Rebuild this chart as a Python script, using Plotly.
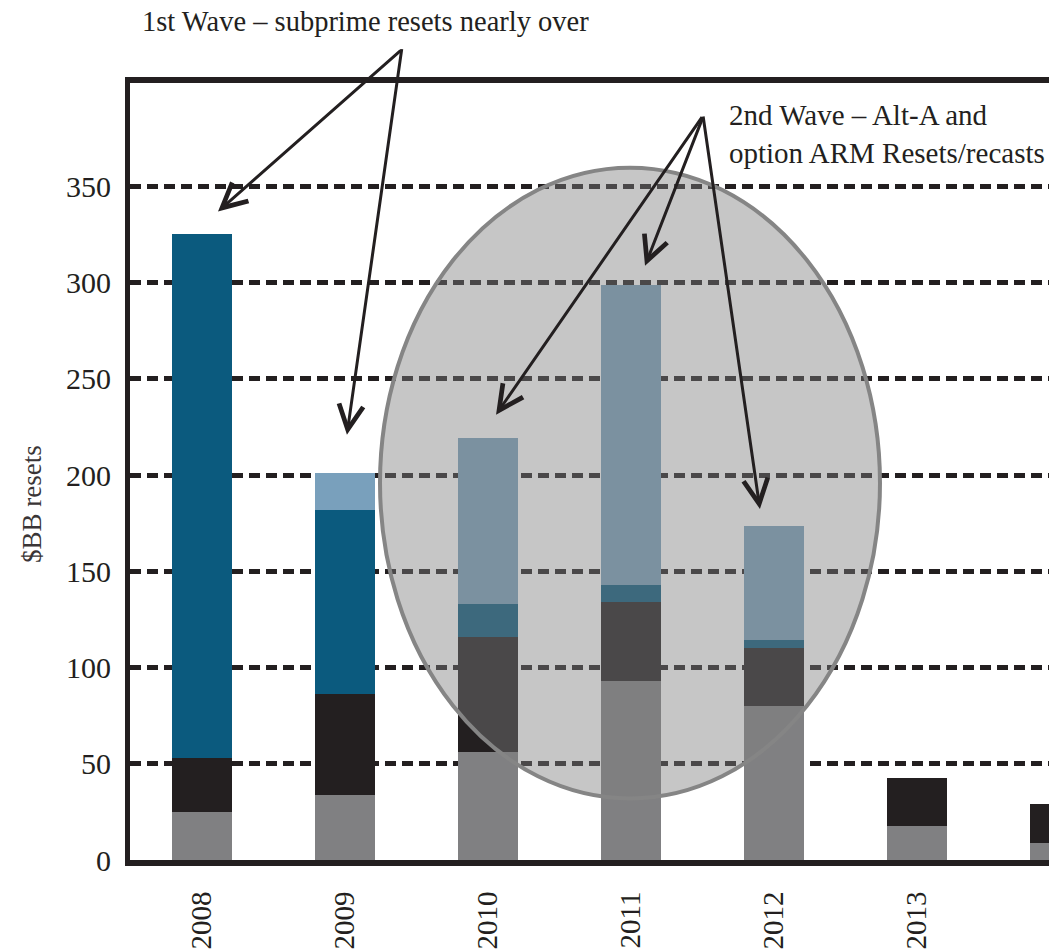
import plotly.graph_objects as go

# Reset volumes by year, $BB, stacked bottom to top
years = [2008, 2009, 2010, 2011, 2012, 2013, 2014]
year_labels = ["2008", "2009", "2010", "2011", "2012", "2013", "2014"]
prime = [25, 34, 56, 93, 80, 17.5, 9]
other = [28, 52, 60, 41, 30, 25, 20]
subprime = [272, 96, 17, 9, 4.5, 0, 0]
alt_a_option_arm = [0, 19, 86, 156, 59, 0, 0]

y_ticks = [0, 50, 100, 150, 200, 250, 300, 350]

INK = "#231F20"
FONT = "Liberation Serif"

series = [
    ("Prime", prime, "#808082"),
    ("Other", other, INK),
    ("Subprime", subprime, "#0B5A7E"),
    ("Alt-A / Option ARM", alt_a_option_arm, "#79A0BC"),
]

fig = go.Figure()
for name, vals, color in series:
    fig.add_trace(go.Bar(
        x=years, y=vals, name=name, width=0.42,
        marker=dict(color=color, line=dict(width=0)),
    ))

fig.update_layout(
    barmode="stack",
    width=1049, height=950,
    margin=dict(l=130, r=0, t=83, b=84),
    paper_bgcolor="white", plot_bgcolor="white",
    showlegend=False,
    font=dict(family=FONT, color=INK, size=28),
)

fig.update_xaxes(
    range=[2007.5, 2007.5 + 919 / 143.1],
    tickvals=years, ticktext=year_labels, tickangle=-90,
    tickfont=dict(family=FONT, size=29, color=INK),
    showgrid=False, zeroline=False,
    showline=True, linecolor=INK, linewidth=6, mirror=True,
    ticks="", ticklabelstandoff=14,
)

fig.update_yaxes(
    range=[0, 403.7],
    tickvals=y_ticks, ticktext=[str(v) for v in y_ticks],
    tickfont=dict(family=FONT, size=30, color=INK),
    showgrid=True, gridcolor=INK, gridwidth=5, griddash="11px,6px",
    zeroline=True, zerolinecolor="white", zerolinewidth=1,
    showline=True, linecolor=INK, linewidth=5, mirror=False,
    ticks="", ticklabelstandoff=8,
)

# Shaded oval over the second-wave years
fig.add_shape(
    type="circle", xref="x", yref="y",
    x0=2009.247, x1=2012.741, y0=32.0, y1=359.7,
    fillcolor="rgba(126,126,126,0.44)",
    line=dict(color="#858585", width=4),
    layer="above",
)

# Axis title
fig.add_annotation(
    text="$BB resets", xref="paper", yref="y",
    x=(32 - 130) / 919, y=185, textangle=-90,
    xanchor="center", yanchor="middle",
    showarrow=False, font=dict(family=FONT, size=27, color="#3a3536"),
)

# Callout texts
fig.add_annotation(
    text="1st Wave \u2013 subprime resets nearly over",
    xref="paper", yref="paper", x=(140 - 130) / 919, y=(866 - 21) / 783,
    xanchor="left", yanchor="middle", showarrow=False,
    font=dict(family=FONT, size=28.5, color=INK),
)
fig.add_annotation(
    text="2nd Wave \u2013 Alt-A and<br>option ARM Resets/recasts",
    xref="paper", yref="paper", x=(727 - 130) / 919, y=(866 - 134) / 783,
    xanchor="left", yanchor="middle", align="left", showarrow=False,
    font=dict(family=FONT, size=29, color=INK),
)

# Callout arrows: (head x, head y, tail offset dx, dy in px)
arrows = [
    (2008.115, 337.0, 184, -162),
    (2009.016, 221.0, 55, -387),
    (2010.058, 231.4, 207, -299),
    (2011.099, 308.7, 58, -149),
    (2011.902, 182.4, -57, -394),
]
for hx, hy, dx, dy in arrows:
    fig.add_annotation(
        x=hx, y=hy, xref="x", yref="y", ax=dx, ay=dy,
        text="", showarrow=True, arrowhead=5, arrowsize=1.6,
        arrowwidth=3, arrowcolor=INK,
    )

fig.write_html("out.html")
